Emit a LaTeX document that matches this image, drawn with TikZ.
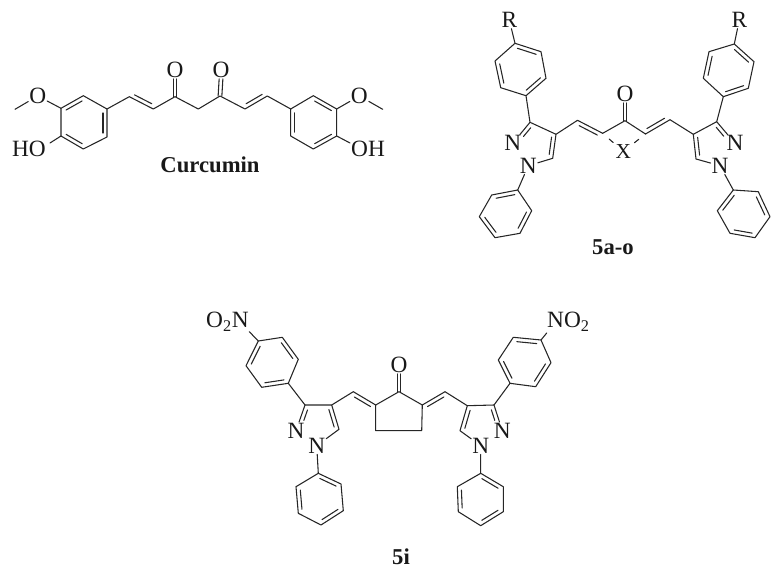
\documentclass[tikz,border=0pt]{standalone}
\usepackage{fontspec}
\setmainfont{Liberation Serif}
\usetikzlibrary{calc}

\tikzset{
  bond/.style={line width=0.8pt, line join=round, line cap=round, black!85},
  xbond/.style={bond, dash pattern=on 0pt off 6.5pt on 4pt off 20pt},
  atom/.style={inner sep=0.6pt, font=\fontsize{17.5}{20}\selectfont, text=black!90},
  smallatom/.style={atom, font=\fontsize{16}{18}\selectfont},
  title/.style={inner sep=0pt, font=\fontsize{17}{20}\selectfont\bfseries, text=black!90}
}

% second line of a double bond, on the right of the way from #1 to #2
\newcommand{\innerbond}[2]{\draw[bond] ($(#1)!.14!(#2)!3pt!-90:(#2)$) -- ($(#2)!.14!(#1)!3pt!90:(#1)$);}
\newcommand{\shortbond}[3][3pt]{\draw[bond] ($(#2)!.14!(#3)!#1!-90:(#3)$) -- ($(#3)!.45!(#2)!#1!90:(#2)$);}
% upright carbonyl
\newcommand{\carbonyl}[2]{%
  \draw[bond] ([xshift=-1.4pt]#1) -- ([xshift=-1.4pt]#2.south);
  \draw[bond] ([xshift=1.4pt]#1) -- ([xshift=1.4pt]#2.south);}

\begin{document}
\begin{tikzpicture}[x=0.75pt, y=-0.75pt]
  \useasboundingbox (0,0) rectangle (782,574);

  % Curcumin
  \foreach \n/\x/\y in {la/83.3/95.7, lb/107/109, lc/107/137, ld/83.3/149, le/61/136, lf/61/108.3,
      ra/313.3/95.7, rb/336.7/109, rc/336.7/136, rd/313.3/149, re/290.7/136, rf/290.7/109,
      va/129.3/96.7, vb/153.3/109, ka/175/96.7, ch/198.3/109, kb/220/96, vc/245/109, vd/267.3/96,
      mea/15/109.3, meb/382.7/109.3, hoa/50/143, hob/350/143}
    \coordinate (\n) at (\x,\y);
  \node[atom] (oma) at (37.7,96) {O};
  \node[atom] (omb) at (359.3,96) {O};
  \node[atom] (oka) at (175,70) {O};
  \node[atom] (okb) at (221,70) {O};
  \node[atom] (hoal) at (29,149.3) {HO};
  \node[atom] (hobl) at (368,149.3) {OH};
  \node[title] (curcumin) at (210,165) {Curcumin};

  \draw[bond] (la) -- (lb) -- (lc) -- (ld) -- (le) -- (lf) -- cycle;
  \draw[bond] (ra) -- (rb) -- (rc) -- (rd) -- (re) -- (rf) -- cycle;
  \innerbond{lb}{lc} \innerbond{ld}{le} \innerbond{lf}{la}
  \innerbond{ra}{rb} \innerbond{rc}{rd} \innerbond{re}{rf}
  \draw[bond] (lb) -- (va) -- (vb) -- (ka) -- (ch) -- (kb) -- (vc) -- (vd) -- (rf);
  \innerbond{vb}{va} \innerbond{vd}{vc}
  \carbonyl{ka}{oka} \carbonyl{kb}{okb}
  \draw[bond] (lf) -- (oma) -- (mea);
  \draw[bond] (rb) -- (omb) -- (meb);
  \draw[bond] (le) -- (hoa);
  \draw[bond] (rc) -- (hob);

  % 5a-o left half
  \foreach \n/\x/\y in {ta/515/43.3, tb/541/51.7, tc/546/78.3, td/526/95.7, te/500.7/87.7, tf/495/61,
      pa/517.7/190, pb/531.7/210.7, pc/520/233.3, pd/495/237.7, pe/479.3/216.7, pf/491.7/195,
      cc/530/122.3, cd/556/134.3, ce/552.7/158.3, xa/577.5/120.3, xb/602.7/133.3, xk/625/120.7}
    \coordinate (\n) at (\x,\y);
  \node[atom] (rla) at (509.3,20) {R};
  \node[atom] (na) at (512.7,143.3) {N};
  \node[atom] (nb) at (528.3,165.7) {N};
  \node[atom] (oxo) at (625,94) {O};
  \node[smallatom] (xx) at (623.3,151.5) {X};
  \node[title] (fivea) at (613,247) {5a-o};

  \draw[bond] (ta) -- (tb) -- (tc) -- (td) -- (te) -- (tf) -- cycle;
  \innerbond{ta}{tb} \innerbond{tc}{td} \innerbond{te}{tf}
  \draw[bond] (rla) -- (ta);
  \draw[bond] (td) -- (cc) -- (cd) -- (ce) -- (nb) -- (pa);
  \draw[bond] (cc) -- (na);
  \innerbond{cd}{ce} \shortbond[-3pt]{cc}{na}
  \draw[bond] (pa) -- (pb) -- (pc) -- (pd) -- (pe) -- (pf) -- cycle;
  \innerbond{pf}{pa} \innerbond{pb}{pc} \innerbond{pd}{pe}
  \draw[bond] (cd) -- (xa) -- (xb) -- (xk);
  \innerbond{xa}{xb}
  \carbonyl{xk}{oxo}
  \draw[xbond] (xb) -- (xx);

  % 5a-o right half
  \foreach \n/\x/\y in {ua/734.3/44, ub/754/61.7, uc/748.3/88.3, ud/723.3/96.7, ue/703.3/78.3, uf/709/51.7,
      qa/733.3/190, qb/758.3/191.7, qc/770/216.7, qd/755/237.7, qe/730/233.3, qf/717.3/210.7,
      dc/716.7/121.7, dd/693.3/134.3, de/696/159, xc/645.5/134, xd/670/119.7}
    \coordinate (\n) at (\x,\y);
  \node[atom] (rlb) at (739.3,20) {R};
  \node[atom] (nc) at (735,143.3) {N};
  \node[atom] (nd) at (720,165.7) {N};

  \draw[bond] (ua) -- (ub) -- (uc) -- (ud) -- (ue) -- (uf) -- cycle;
  \innerbond{ua}{ub} \innerbond{uc}{ud} \innerbond{ue}{uf}
  \draw[bond] (rlb) -- (ua);
  \draw[bond] (ud) -- (dc) -- (dd) -- (de) -- (nd) -- (qa);
  \draw[bond] (dc) -- (nc);
  \innerbond{de}{dd} \shortbond{dc}{nc}
  \draw[bond] (qa) -- (qb) -- (qc) -- (qd) -- (qe) -- (qf) -- cycle;
  \innerbond{qb}{qc} \innerbond{qd}{qe} \innerbond{qf}{qa}
  \draw[bond] (xk) -- (xc) -- (xd) -- (dd);
  \innerbond{xd}{xc}
  \draw[xbond] (xc) -- (xx);

  % 5i left half
  \foreach \n/\x/\y in {ga/258.3/341, gb/282.3/337.3, gc/298.3/359.3, gd/288.3/383.3, ge/261.7/387.3, gf/246/365.7,
      ha/318.3/473.3, hb/341/484, hc/343.3/510.7, hd/321/525, he/298.3/513.3, hf/296/486.7,
      ec/305/405, ed/331.7/405, ee/339/429.3, ya/353.3/391.7,
      ba/375.7/405, bb/375.7/430.7, bc/399/391.7, bd/421.7/430.7, be/422.3/405, nitroa/249.3/331.7}
    \coordinate (\n) at (\x,\y);
  \node[atom, inner sep=0pt] (ntl) at (227.5,321.7) {O\textsubscript{2}N};
  \node[atom] (ne) at (296,430.7) {N};
  \node[atom] (nf) at (316.7,445.7) {N};
  \node[atom] (oxi) at (399,365) {O};
  \node[title] (fivei) at (401,557) {5i};

  \draw[bond] (ga) -- (gb) -- (gc) -- (gd) -- (ge) -- (gf) -- cycle;
  \innerbond{gb}{gc} \innerbond{gd}{ge} \innerbond{gf}{ga}
  \draw[bond] (nitroa) -- (ga);
  \draw[bond] (gd) -- (ec) -- (ed) -- (ee) -- (nf) -- (ha);
  \draw[bond] (ec) -- (ne);
  \innerbond{ed}{ee} \shortbond[-3pt]{ec}{ne}
  \draw[bond] (ha) -- (hb) -- (hc) -- (hd) -- (he) -- (hf) -- cycle;
  \innerbond{ha}{hb} \innerbond{hc}{hd} \innerbond{he}{hf}
  \draw[bond] (ed) -- (ya) -- (ba);
  \innerbond{ya}{ba}
  \draw[bond] (ba) -- (bc) -- (be) -- (bd) -- (bb) -- cycle;
  \carbonyl{bc}{oxi}

  % 5i right half
  \foreach \n/\x/\y in {ia/541/340, ib/551/362.7, ic/535.7/386.7, id/510/383.3, ie/498.3/360, if/513.3/337.3,
      ja/480.7/473.3, jb/503.3/486.7, jc/503.3/511.7, jd/480.7/525.7, je/458.3/511.7, jf/457.3/486.7,
      fc/494/405, fd/467.3/405.7, fe/460/430.7, yb/445/391.7, nitrob/546.7/333}
    \coordinate (\n) at (\x,\y);
  \node[atom, inner sep=0pt] (ntr) at (568.5,321.7) {NO\textsubscript{2}};
  \node[atom] (ng) at (502.3,430.7) {N};
  \node[atom] (nh) at (480.7,445.7) {N};

  \draw[bond] (ia) -- (ib) -- (ic) -- (id) -- (ie) -- (if) -- cycle;
  \innerbond{if}{ia} \innerbond{ib}{ic} \innerbond{id}{ie}
  \draw[bond] (nitrob) -- (ia);
  \draw[bond] (id) -- (fc) -- (fd) -- (fe) -- (nh) -- (ja);
  \draw[bond] (fc) -- (ng);
  \innerbond{fe}{fd} \shortbond{fc}{ng}
  \draw[bond] (ja) -- (jb) -- (jc) -- (jd) -- (je) -- (jf) -- cycle;
  \innerbond{ja}{jb} \innerbond{jc}{jd} \innerbond{je}{jf}
  \draw[bond] (fd) -- (yb) -- (be);
  \innerbond{be}{yb}
\end{tikzpicture}
\end{document}
